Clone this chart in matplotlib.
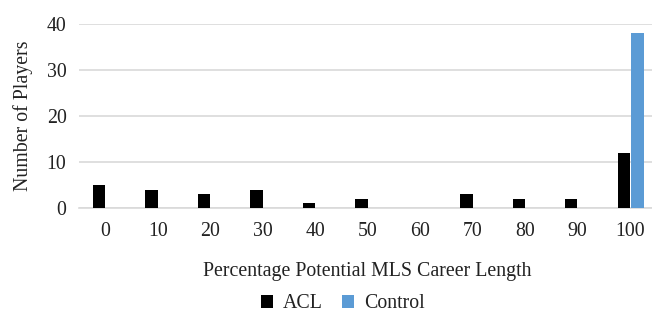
import matplotlib
matplotlib.use("Agg")
import matplotlib.pyplot as plt
import numpy as np

categories = ["0", "10", "20", "30", "40", "50", "60", "70", "80", "90", "100"]
acl = [5, 4, 3, 4, 1, 2, 0, 3, 2, 2, 12]
control = [0, 0, 0, 0, 0, 0, 0, 0, 0, 0, 38]

plt.rcParams['font.family'] = ['Liberation Serif', 'DejaVu Serif']
FS = 14.3
TC = "#222222"

fig = plt.figure(figsize=(6.52, 3.14), dpi=100)
ax = fig.add_axes([79/652, 1-208/314, (656-79)/652, (208-24)/314])

x = np.arange(len(categories))
w = 0.235
ax.bar(x - 0.115, acl, width=w, color="black", label="ACL", zorder=3)
ax.bar(x + 0.145, control, width=w, color="#5B9BD5", label="Control", zorder=3)

ax.set_xlim(-0.5, len(categories) - 0.5)
ax.set_ylim(0, 40)
ax.set_yticks([0, 10, 20, 30, 40])
ax.set_xticks(x)
ax.set_xticklabels(categories)
ax.tick_params(axis='both', length=0, labelsize=FS, colors=TC)
ax.tick_params(axis='x', pad=10)
ax.tick_params(axis='y', pad=9)
ax.grid(axis='y', color="#d9d9d9", linewidth=1.2, zorder=0)
for s in ["top", "right", "left"]:
    ax.spines[s].set_visible(False)
ax.spines["bottom"].set_color("#d9d9d9")
ax.spines["bottom"].set_linewidth(1.2)

ax.set_ylabel("Number of Players", fontsize=FS, color=TC, labelpad=10)
ax.set_xlabel("Percentage Potential MLS Career Length", fontsize=FS, color=TC, labelpad=15)

fig.legend(loc="center", bbox_to_anchor=(343/652, 1-304/314), ncol=2, frameon=False,
           fontsize=FS, handlelength=0.6, handleheight=0.6, handletextpad=0.5, columnspacing=0.95,
           labelcolor=TC, borderpad=0.2)

fig.savefig("out.png", dpi=100)
